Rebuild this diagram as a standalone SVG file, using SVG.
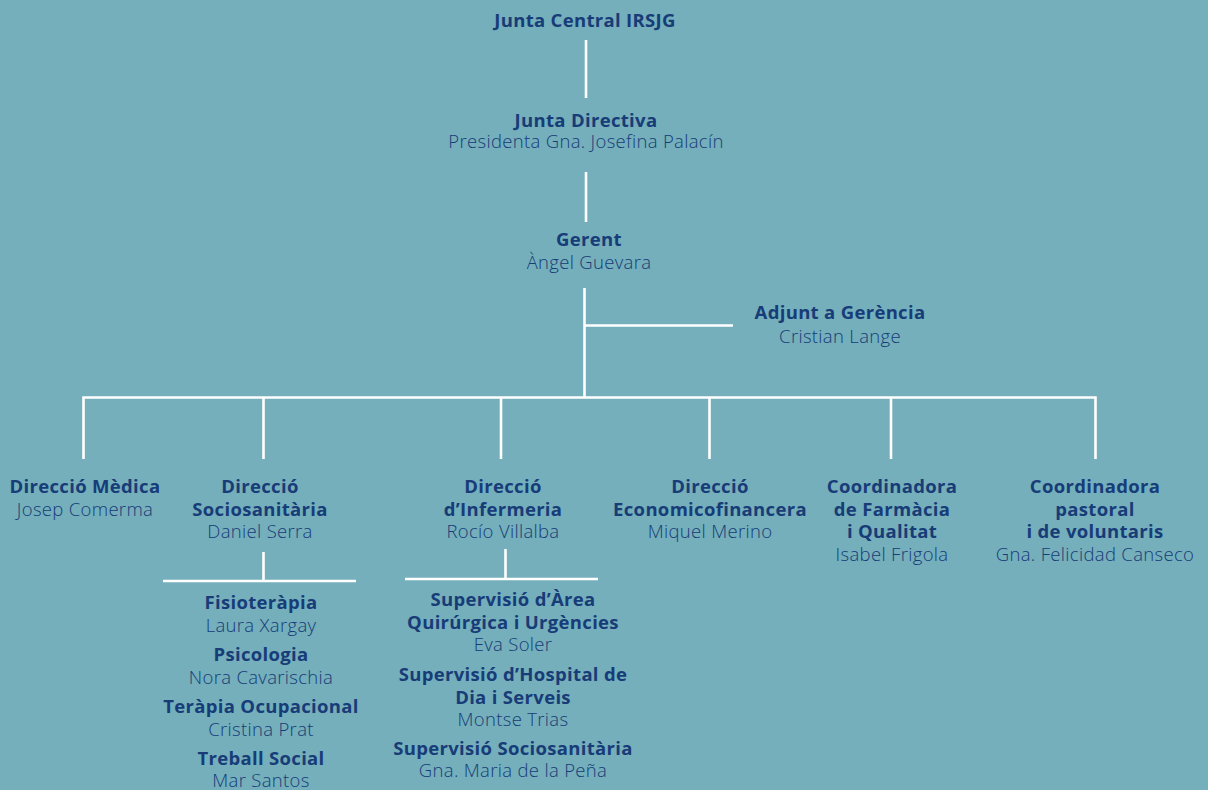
<svg xmlns="http://www.w3.org/2000/svg" width="1208" height="790" viewBox="0 0 1208 790">
<style>
text{font-family:"Open Sans","Noto Sans","Liberation Sans",sans-serif;font-size:18.5px;letter-spacing:0.32px;fill:#173c78;text-anchor:middle}
.b{font-weight:700}
.r{font-weight:300}
.c line,.c path{stroke:#ffffff;stroke-width:2.6;fill:none}
</style>
<rect x="0" y="0" width="1208" height="790" fill="#74afbb"/>
<g class="c" id="connectors">
<line x1="586" y1="40" x2="586" y2="98"/>
<line x1="586" y1="172" x2="586" y2="222"/>
<line x1="584.5" y1="288" x2="584.5" y2="397"/>
<line x1="584.5" y1="325.5" x2="733" y2="325.5"/>
<path d="M83.5 459V397.5H1095.5V459"/>
<line x1="263.5" y1="397" x2="263.5" y2="459"/>
<line x1="501" y1="397" x2="501" y2="459"/>
<line x1="709.5" y1="397" x2="709.5" y2="459"/>
<line x1="891" y1="397" x2="891" y2="459"/>
<line x1="263.5" y1="552" x2="263.5" y2="581"/>
<line x1="163" y1="581" x2="356" y2="581"/>
<line x1="505.5" y1="549" x2="505.5" y2="579"/>
<line x1="405" y1="579" x2="598" y2="579"/>
</g>
<g id="junta-central"><text class="b" x="585" y="27">Junta Central IRSJG</text></g>
<g id="junta-directiva"><text class="b" x="586" y="127">Junta Directiva</text><text class="r" x="586" y="148">Presidenta Gna. Josefina Palacín</text></g>
<g id="gerent"><text class="b" x="589" y="246">Gerent</text><text class="r" x="589" y="268.5">Àngel Guevara</text></g>
<g id="adjunt"><text class="b" x="840" y="319">Adjunt a Gerència</text><text class="r" x="840" y="342.5">Cristian Lange</text></g>
<g id="direccio-medica"><text class="b" x="85" y="493">Direcció Mèdica</text><text class="r" x="85" y="515.5">Josep Comerma</text></g>
<g id="direccio-sociosanitaria"><text class="b" x="260" y="493">Direcció</text><text class="b" x="260" y="515.5">Sociosanitària</text><text class="r" x="260" y="538">Daniel Serra</text></g>
<g id="direccio-infermeria"><text class="b" x="503" y="493">Direcció</text><text class="b" x="503" y="515.5">d’Infermeria</text><text class="r" x="503" y="538">Rocío Villalba</text></g>
<g id="direccio-economicofinancera"><text class="b" x="710" y="493">Direcció</text><text class="b" x="710" y="515.5">Economicofinancera</text><text class="r" x="710" y="538">Miquel Merino</text></g>
<g id="coordinadora-farmacia"><text class="b" x="892" y="493">Coordinadora</text><text class="b" x="892" y="515.5">de Farmàcia</text><text class="b" x="892" y="538">i Qualitat</text><text class="r" x="892" y="560.5">Isabel Frigola</text></g>
<g id="coordinadora-pastoral"><text class="b" x="1095" y="493">Coordinadora</text><text class="b" x="1095" y="515.5">pastoral</text><text class="b" x="1095" y="538">i de voluntaris</text><text class="r" x="1095" y="560.5">Gna. Felicidad Canseco</text></g>
<g id="fisioterapia"><text class="b" x="261" y="609">Fisioteràpia</text><text class="r" x="261" y="632">Laura Xargay</text></g>
<g id="psicologia"><text class="b" x="261" y="661">Psicologia</text><text class="r" x="261" y="683.5">Nora Cavarischia</text></g>
<g id="terapia-ocupacional"><text class="b" x="261" y="713">Teràpia Ocupacional</text><text class="r" x="261" y="736">Cristina Prat</text></g>
<g id="treball-social"><text class="b" x="261" y="765">Treball Social</text><text class="r" x="261" y="787">Mar Santos</text></g>
<g id="supervisio-area"><text class="b" x="513" y="606">Supervisió d’Àrea</text><text class="b" x="513" y="629">Quirúrgica i Urgències</text><text class="r" x="513" y="651">Eva Soler</text></g>
<g id="supervisio-hospital"><text class="b" x="513" y="681">Supervisió d’Hospital de</text><text class="b" x="513" y="703.5">Dia i Serveis</text><text class="r" x="513" y="726">Montse Trias</text></g>
<g id="supervisio-sociosanitaria"><text class="b" x="513" y="755">Supervisió Sociosanitària</text><text class="r" x="513" y="777">Gna. Maria de la Peña</text></g>
</svg>
